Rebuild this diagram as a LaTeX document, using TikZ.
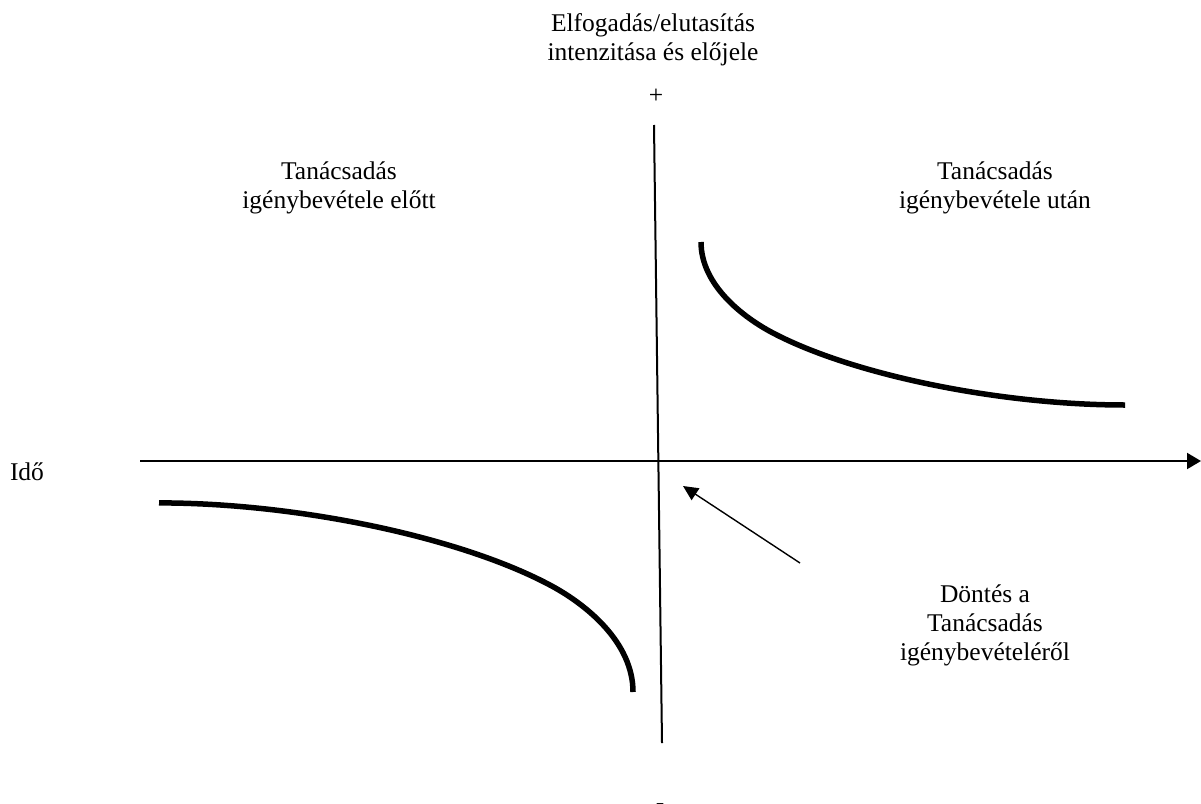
\documentclass[tikz,border=0pt]{standalone}
\usepackage{fontspec}
\setmainfont{Liberation Serif}
\usetikzlibrary{arrows.meta}
\begin{document}
\begin{tikzpicture}[x=1pt,y=-1pt,
  lbl/.style={font=\fontsize{25.5}{29}\selectfont, inner sep=0pt, align=center, anchor=base},
  axisline/.style={line width=2pt},
  curveline/.style={line width=5.5pt},
  pointer/.style={line width=1.4pt,-{Triangle[length=15pt,width=14pt]}}
]
\useasboundingbox (0,0) rectangle (1201,803);
\coordinate (vtop) at (654,125);
\coordinate (vbot) at (662,743);
\coordinate (hl) at (140,461);
\coordinate (hr) at (1201,461);
\coordinate (as) at (800,563);
\coordinate (at) at (683,486);
\draw[axisline] (vtop) -- (vbot);
\draw[axisline,-{Triangle[length=14pt,width=16pt]}] (hl) -- (hr);
\draw[pointer] (as) -- (at);
\draw[curveline] (701,242) .. controls (701,285) and (743,317.25) .. (773,333)
  .. controls (853,375) and (1000,405) .. (1125,405);
\draw[curveline] (159,502.9) .. controls (298.7,502.9) and (463,537.7) .. (552.5,586.4)
  .. controls (586,604.7) and (633,642.1) .. (633,692);
\node[lbl] (title) at (653,60) {Elfogadás/elutasítás\\intenzitása és előjele};
\node[lbl] (plus) at (656,103) {+};
\node[lbl] (minus) at (660,810) {-};
\node[lbl] (ido) at (27,480) {Idő};
\node[lbl] (before) at (339,208) {Tanácsadás\\igénybevétele előtt};
\node[lbl] (after) at (995,208) {Tanácsadás\\igénybevétele után};
\node[lbl] (decision) at (985,660) {Döntés a\\Tanácsadás\\igénybevételéről};
\end{tikzpicture}
\end{document}
